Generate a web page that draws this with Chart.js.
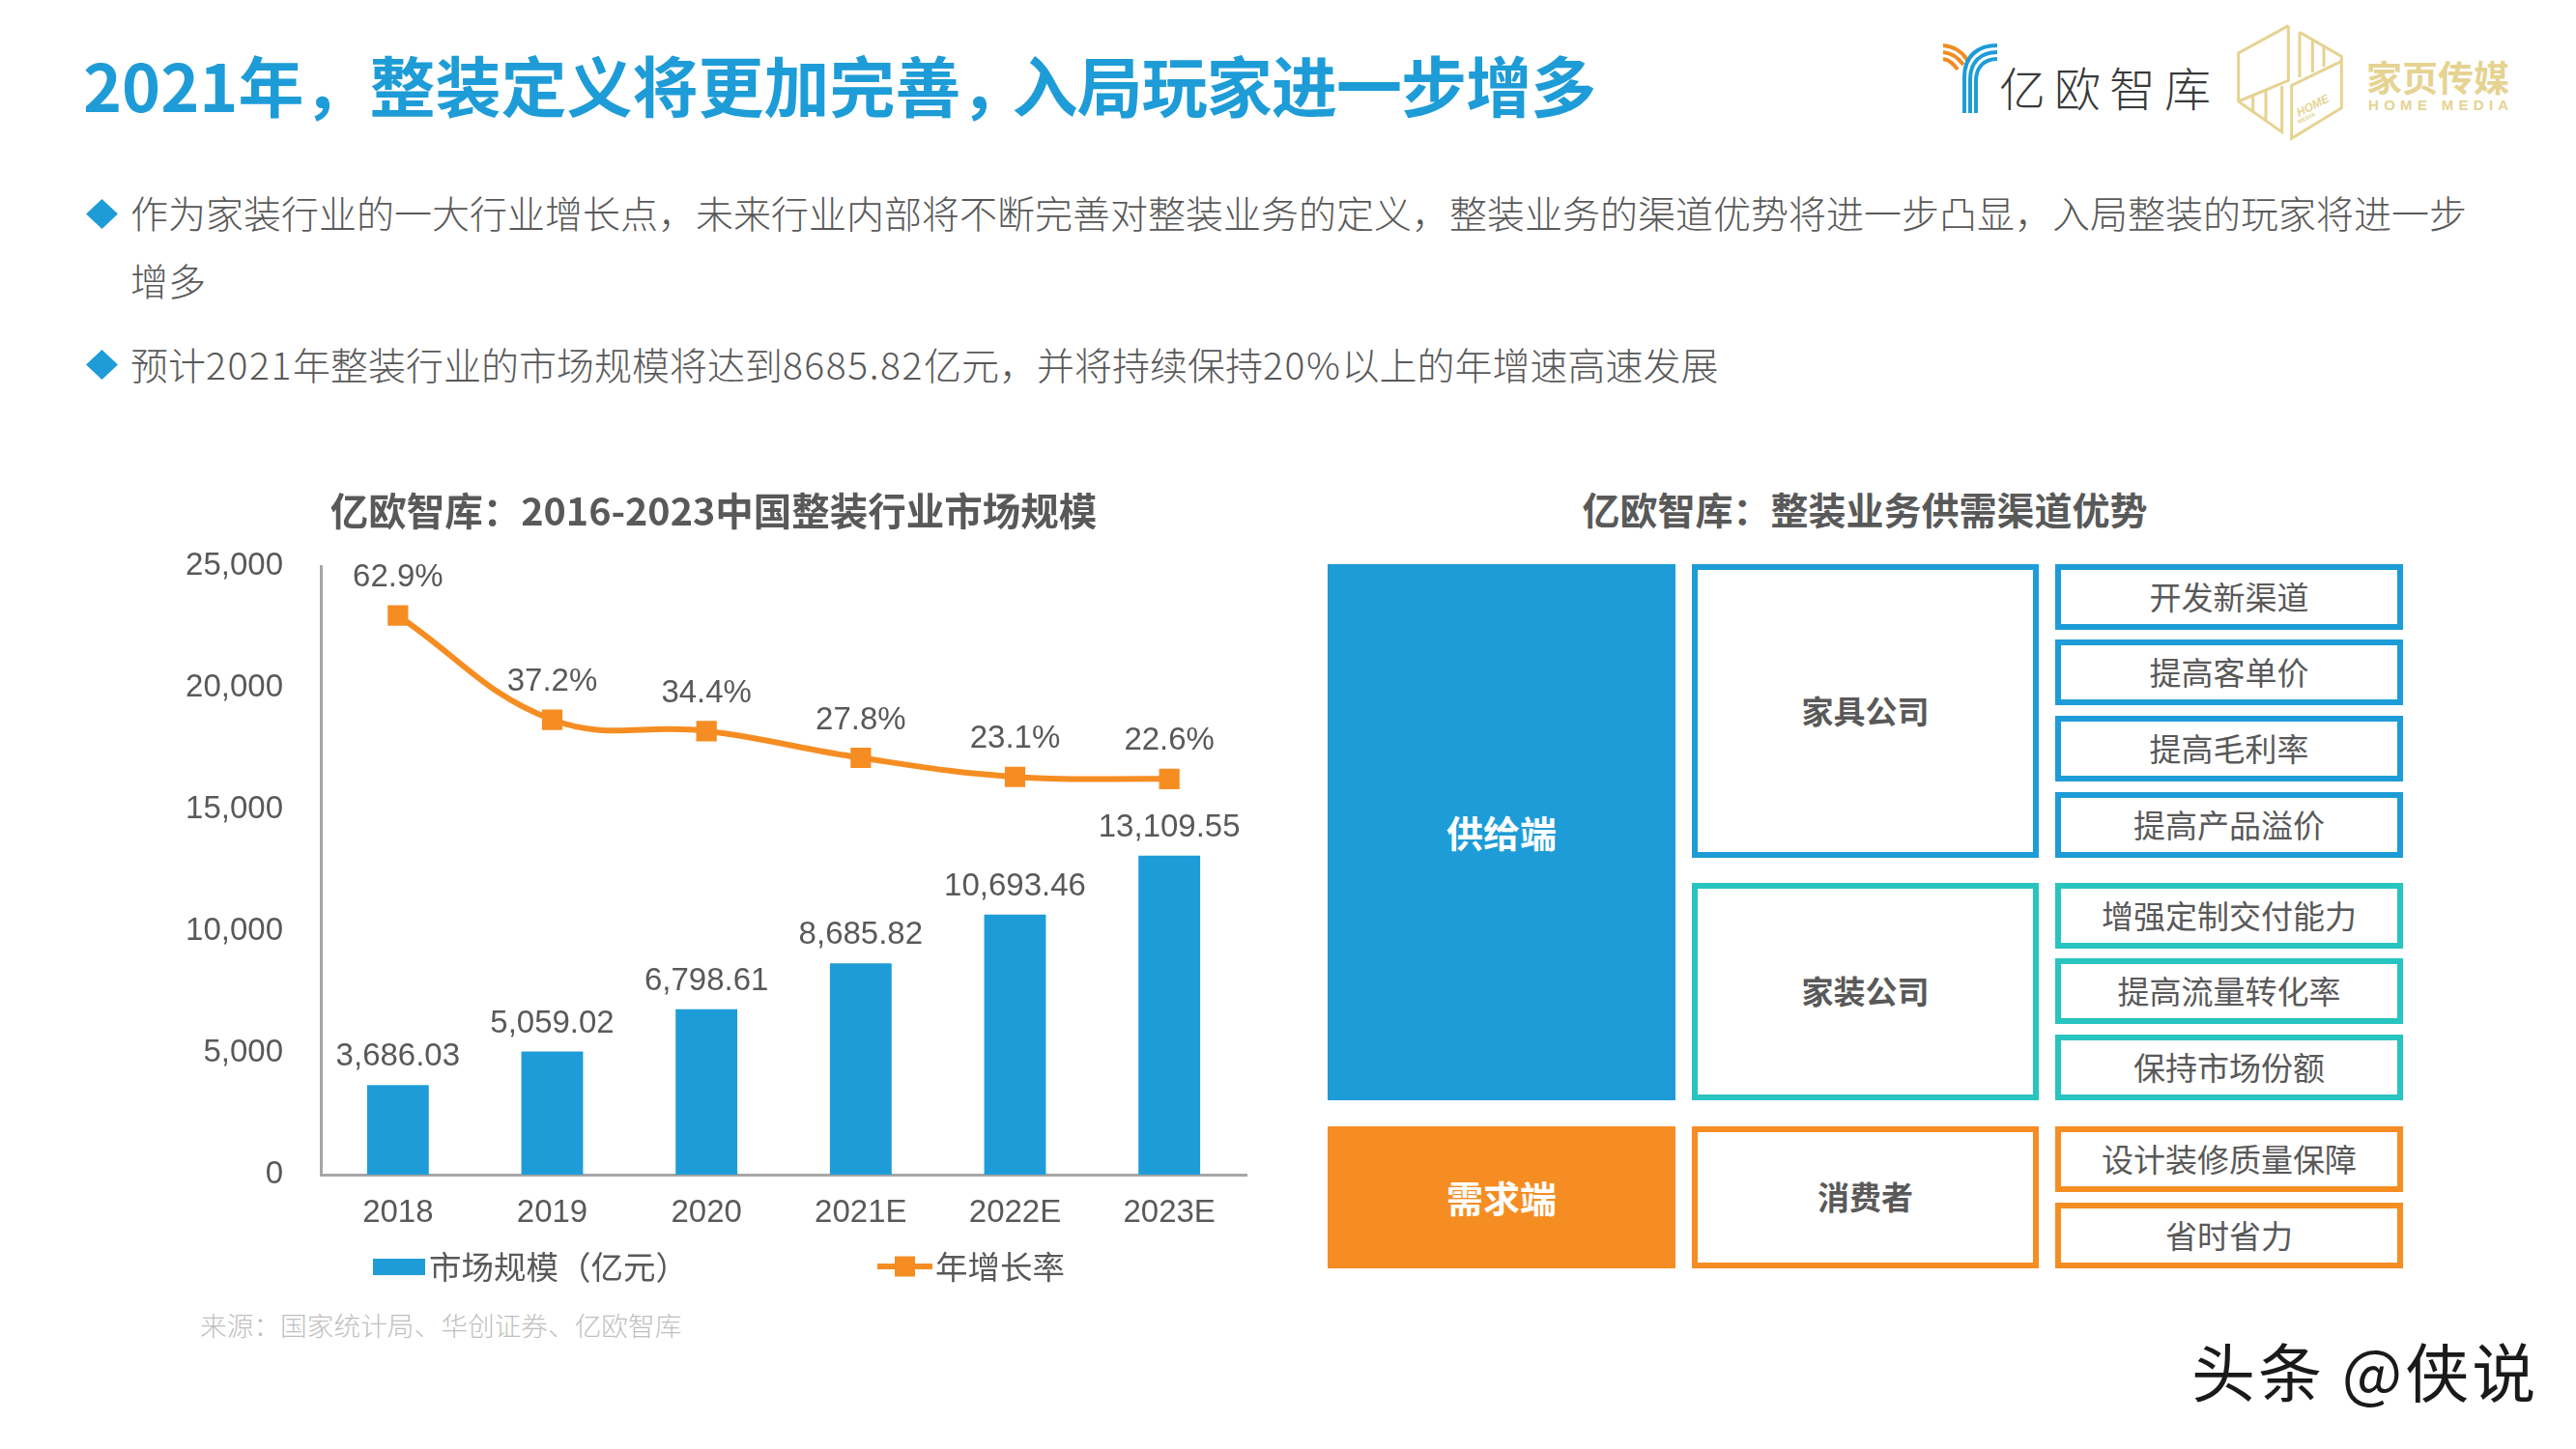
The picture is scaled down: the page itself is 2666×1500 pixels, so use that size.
<!DOCTYPE html>
<html lang="zh">
<head>
<meta charset="utf-8">
<title>2021年，整装定义将更加完善</title>
<script src="https://cdn.jsdelivr.net/npm/chart.js@4/dist/chart.umd.min.js"></script>
<style>
  * { box-sizing: border-box; margin: 0; padding: 0; }
  html, body { width: 2666px; height: 1500px; background: #fff; overflow: hidden; }
  body { position: relative; font-family: "Noto Sans CJK SC", "Liberation Sans", sans-serif; color: #595959; }
  .abs { position: absolute; white-space: nowrap; }
  #title { left: 86px; top: 39px; font-size: 68px; line-height: 96px; height: 96px; font-weight: 700; color: #1e9cd7; }
  #title .tail { margin-left: -15px; letter-spacing: -0.9px; }
  .para { left: 135px; font-size: 39px; line-height: 56px; font-weight: 300; }
  .para b { font-weight: 300; letter-spacing: 1.6px; }
  .diamond { left: 89px; width: 33px; height: 31px; background: #1e9cd7; clip-path: polygon(50% 0, 100% 50%, 50% 100%, 0 50%); }
  #source { left: 207px; top: 1351px; font-size: 27.7px; line-height: 40px; color: #bfbfbf; font-weight: 300; }
  #chartBox { left: 150px; top: 490px; }
  #panelTitle { left: 1560px; width: 740px; top: 497px; text-align: center; font-size: 39px; line-height: 58px; font-weight: 700; }
  .box { position: absolute; display: flex; align-items: center; justify-content: center; background: #fff; border: 6px solid; padding-bottom: 3px; white-space: nowrap; }
  .fill { color: #fff; font-weight: 700; font-size: 38px; border: 0; }
  .mid { font-weight: 700; font-size: 33px; }
  .leaf { font-size: 33px; font-weight: 400; }
  #mark { left: 2268px; top: 1372px; font-size: 66px; line-height: 90px; letter-spacing: 3px; color: #1a1a1a; }
  #euName { left: 2069px; top: 53px; font-size: 48px; line-height: 72px; letter-spacing: 9px; font-weight: 300; color: #3a3a3a; }
  #homeName { left: 2449px; top: 50px; font-size: 37px; line-height: 58px; font-weight: 700; color: #e6d392; }
  #homeEn { left: 2451px; top: 100px; font-family: "Liberation Sans", sans-serif; font-size: 15px; line-height: 18px; font-weight: 700; letter-spacing: 5.3px; color: #e6d392; }
</style>
</head>
<body>

<div class="abs" id="title">2021年，整装定义将更加完善，<span class="tail">入局玩家进一步增多</span></div>

<svg class="abs" style="left:2008px;top:42px" width="62" height="78" viewBox="0 0 62 78" fill="none">
  <g stroke="#f08c22" stroke-width="4">
    <path d="M3 5 C14 6 24 12 29 22"/>
    <path d="M3 12 C12 13 19 18 24 25"/>
    <path d="M3 19 C9 20 14 24 18 30"/>
  </g>
  <g stroke="#1e9cd7" stroke-width="4">
    <path d="M59 5 C40 5 25 15 25 38 V75"/>
    <path d="M59 12 C42 12 31 22 31 40 V75"/>
    <path d="M59 19 C45 19 37 28 37 42 V75"/>
  </g>
</svg>
<div class="abs" id="euName">亿欧智库</div>

<svg class="abs" style="left:2300px;top:15px" width="320" height="135" viewBox="0 0 960 405" fill="none" stroke="#e6d392" stroke-width="9">
  <path d="M205 35 L50 120 V270 L185 365 V222 M205 35 V205 L50 270"/>
  <path d="M95 250 V300 M135 232 V330"/>
  <path d="M240 55 L370 130 V290 L215 385 V220 L370 145"/>
  <path d="M240 55 V195 M280 80 V180 M315 100 V162"/>
  <text x="238" y="318" transform="rotate(-27 238 318)" font-family="Liberation Sans" font-size="36" font-style="italic" font-weight="700" fill="#e6d392" stroke="none">HOME</text>
  <text x="238" y="340" transform="rotate(-27 238 340)" font-family="Liberation Sans" font-size="18" font-weight="700" fill="#e6d392" stroke="none">MEDIA</text>
</svg>
<div class="abs" id="homeName">家页传媒</div>
<div class="abs" id="homeEn">HOME MEDIA</div>

<div class="abs diamond" style="top:206px"></div>
<div class="abs para" style="top:191px">作为家装行业的一大行业增长点，未来行业内部将不断完善对整装业务的定义，整装业务的渠道优势将进一步凸显，入局整装的玩家将进一步</div>
<div class="abs para" style="top:261px">增多</div>
<div class="abs diamond" style="top:362px"></div>
<div class="abs para" style="top:348px">预计<b>2021</b>年整装行业的市场规模将达到<b>8685.82</b>亿元，并将持续保持<b>20%</b>以上的年增速高速发展</div>

<div class="abs" id="chartBox"><canvas id="marketChart" width="1190" height="855"></canvas></div>
<div class="abs" id="source">来源：国家统计局、华创证券、亿欧智库</div>

<div class="abs" id="panelTitle">亿欧智库：整装业务供需渠道优势</div>
<div id="panel"></div>

<div class="abs" id="mark">头条 @侠说</div>

<script>
/* ── data ── */
const years = ["2018", "2019", "2020", "2021E", "2022E", "2023E"];
const marketSize = [3686.03, 5059.02, 6798.61, 8685.82, 10693.46, 13109.55];
const growthRate = [62.9, 37.2, 34.4, 27.8, 23.1, 22.6];
const yTicks = [0, 5000, 10000, 15000, 20000, 25000];
const chartTitle = "亿欧智库：2016-2023中国整装行业市场规模";
const sizeLabel = "市场规模（亿元）";
const rateLabel = "年增长率";

/* ── colours ── */
const BLUE = "#1e9cd7";
const ORANGE = "#f68d22";
const TEAL = "#28c4bf";
const TEXT = "#595959";
const AXIS = "#a6a6a6";
const LATIN = '"Liberation Sans", "Noto Sans CJK SC", sans-serif';

/* ── value labels over bars and points ── */
const valueLabels = {
  id: "valueLabels",
  afterDatasetsDraw(chart) {
    const { ctx } = chart;
    ctx.save();
    ctx.font = "33px " + LATIN;
    ctx.fillStyle = TEXT;
    ctx.textAlign = "center";
    ctx.textBaseline = "middle";
    chart.getDatasetMeta(0).data.forEach((bar, i) => {
      const txt = marketSize[i].toLocaleString("en-US", { minimumFractionDigits: 2 });
      ctx.fillText(txt, bar.x, bar.y - 29);
    });
    chart.getDatasetMeta(1).data.forEach((pt, i) => {
      ctx.fillText(growthRate[i].toFixed(1) + "%", pt.x, pt.y - 39);
    });
    ctx.restore();
  },
};

/* ── legend row: items are spaced wider than the built-in legend allows ── */
const legendRow = {
  id: "legendRow",
  afterDraw(chart) {
    const { ctx } = chart;
    const y = 821;
    ctx.save();
    ctx.font = '33.5px "Noto Sans CJK SC", sans-serif';
    ctx.fillStyle = BLUE;
    ctx.fillRect(236, y - 8, 54, 17);
    ctx.fillStyle = ORANGE;
    ctx.fillRect(758, y - 3, 57, 6);
    ctx.fillRect(776, y - 10.5, 21, 21);
    ctx.fillStyle = TEXT;
    ctx.textBaseline = "middle";
    ctx.fillText(chart.data.datasets[0].label, 294, y);
    ctx.fillText(chart.data.datasets[1].label, 818, y);
    ctx.restore();
  },
};

new Chart(document.getElementById("marketChart"), {
  data: {
    labels: years,
    datasets: [
      {
        type: "bar",
        label: sizeLabel,
        data: marketSize,
        backgroundColor: BLUE,
        barPercentage: 0.4,
        categoryPercentage: 1,
        yAxisID: "y",
        order: 2,
      },
      {
        type: "line",
        label: rateLabel,
        data: growthRate,
        borderColor: ORANGE,
        backgroundColor: ORANGE,
        borderWidth: 6,
        tension: 0.4,
        pointStyle: "rect",
        pointRadius: 15,
        pointBackgroundColor: ORANGE,
        pointBorderWidth: 0,
        yAxisID: "y1",
        order: 1,
      },
    ],
  },
  options: {
    responsive: false,
    animation: false,
    layout: { autoPadding: false, padding: { left: 37, right: 50, bottom: 0 } },
    plugins: {
      legend: { display: false },
      tooltip: { enabled: false },
      title: {
        display: true,
        text: chartTitle,
        color: TEXT,
        font: { family: '"Noto Sans CJK SC", sans-serif', size: 39.5, weight: "bold", lineHeight: 1.2 },
        padding: { top: 15, bottom: 34 },
      },
    },
    scales: {
      x: {
        grid: { display: false },
        border: { display: true, color: AXIS, width: 3 },
        ticks: { color: TEXT, font: { family: LATIN, size: 33 }, padding: 12, maxRotation: 0 },
        afterFit(scale) { scale.height = 129; },
      },
      y: {
        min: 0,
        max: 25000,
        afterBuildTicks(scale) { scale.ticks = yTicks.map((value) => ({ value })); },
        grid: { display: false },
        border: { display: true, color: AXIS, width: 3 },
        ticks: {
          color: TEXT,
          font: { family: LATIN, size: 33 },
          padding: 31,
          callback: (v) => v.toLocaleString("en-US"),
        },
        afterFit(scale) { scale.width = 145; },
      },
      y1: { display: false, min: -75, max: 75 },
    },
  },
  plugins: [valueLabels, legendRow],
});

/* ── right panel boxes ── */
const panelBoxes = [
  // left, top, right, bottom, colour, class, text
  [1374, 584, 1734, 1139, BLUE, "fill", "供给端"],
  [1374, 1166, 1734, 1313, ORANGE, "fill", "需求端"],
  [1751, 584, 2110, 888, BLUE, "mid", "家具公司"],
  [1751, 914, 2110, 1139, TEAL, "mid", "家装公司"],
  [1751, 1166, 2110, 1313, ORANGE, "mid", "消费者"],
  [2127, 584, 2487, 652, BLUE, "leaf", "开发新渠道"],
  [2127, 662, 2487, 730, BLUE, "leaf", "提高客单价"],
  [2127, 741, 2487, 809, BLUE, "leaf", "提高毛利率"],
  [2127, 820, 2487, 888, BLUE, "leaf", "提高产品溢价"],
  [2127, 914, 2487, 982, TEAL, "leaf", "增强定制交付能力"],
  [2127, 992, 2487, 1060, TEAL, "leaf", "提高流量转化率"],
  [2127, 1071, 2487, 1139, TEAL, "leaf", "保持市场份额"],
  [2127, 1166, 2487, 1234, ORANGE, "leaf", "设计装修质量保障"],
  [2127, 1245, 2487, 1313, ORANGE, "leaf", "省时省力"],
];

const panel = document.getElementById("panel");
panelBoxes.forEach(([l, t, r, b, colour, cls, text]) => {
  const el = document.createElement("div");
  el.className = "box " + cls;
  el.style.cssText = `left:${l}px;top:${t}px;width:${r - l}px;height:${b - t}px;border-color:${colour};`;
  if (cls === "fill") el.style.background = colour;
  el.textContent = text;
  panel.appendChild(el);
});
</script>
</body>
</html>
